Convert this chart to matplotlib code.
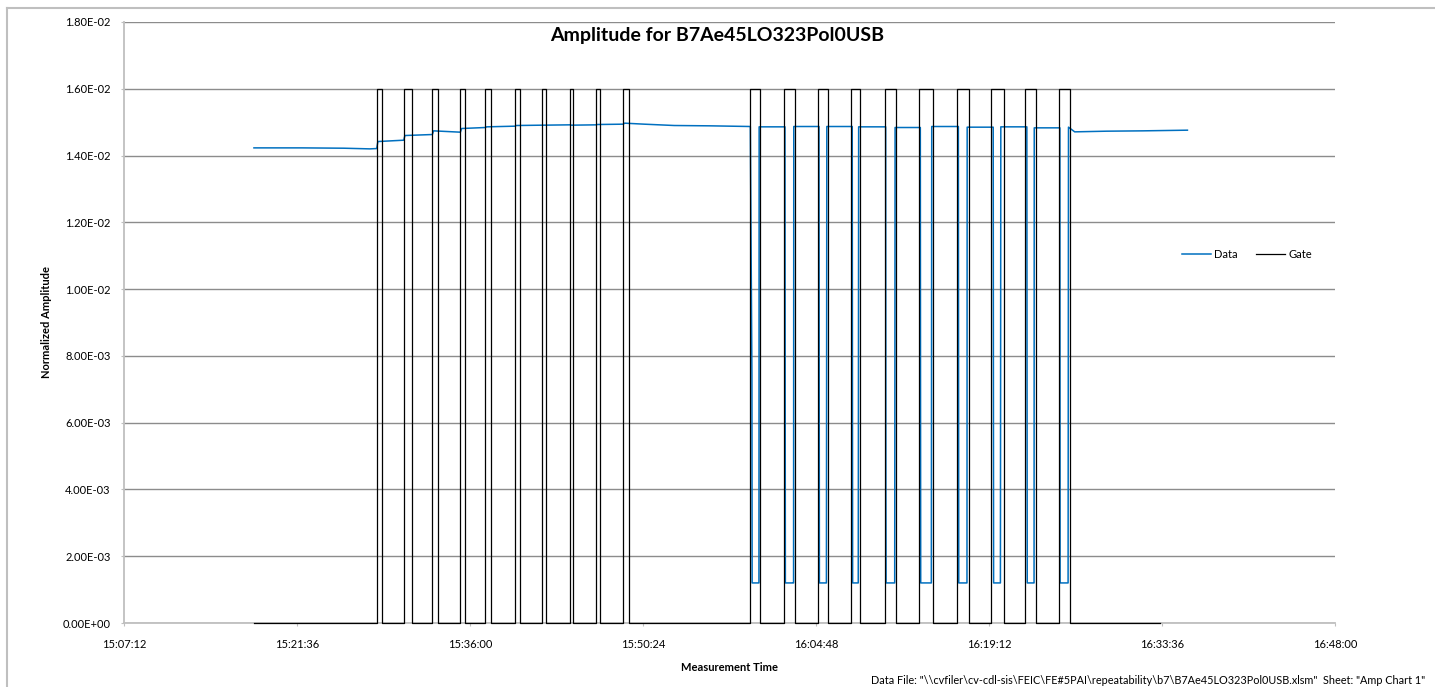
import matplotlib
matplotlib.use("Agg")
import matplotlib.pyplot as plt
from matplotlib.ticker import FuncFormatter, MultipleLocator
from matplotlib.lines import Line2D

plt.rcParams['font.family'] = ['Lato', 'DejaVu Sans']


def to_min(s):
    # "HH:MM:SS" -> minutes after midnight
    h, m, sec = (int(p) for p in s.split(':'))
    return h * 60 + m + sec / 60.0


# ---- Gate (0 or 1.6E-2) ----
gate_on = "15:18:01"
gate_off = "16:33:28"
gate_high = 0.016
pulse_start = ["15:28:14", "15:30:29", "15:32:52", "15:35:12", "15:37:17",
               "15:39:45", "15:42:00", "15:44:20", "15:46:30", "15:48:46",
               "15:59:19", "16:02:06", "16:04:56", "16:07:43", "16:10:31",
               "16:13:24", "16:16:32", "16:19:23", "16:22:12", "16:25:02"]
pulse_end = ["15:28:41", "15:31:10", "15:33:19", "15:35:37", "15:37:44",
             "15:40:12", "15:42:20", "15:44:34", "15:46:50", "15:49:16",
             "16:00:10", "16:03:01", "16:05:47", "16:08:29", "16:11:29",
             "16:14:32", "16:17:32", "16:20:25", "16:23:08", "16:25:58"]

# ---- Data, first part (no dips) ----
data1_time = ["15:18:01", "15:22:00", "15:25:30", "15:27:40", "15:28:14",
              "15:28:20", "15:30:29", "15:30:35", "15:32:52", "15:32:58",
              "15:35:12", "15:35:18", "15:37:17", "15:37:23", "15:39:45",
              "15:39:51", "15:42:00", "15:42:06", "15:44:20", "15:44:26",
              "15:46:30", "15:46:36", "15:48:46", "15:48:52", "15:50:30",
              "15:53:00", "15:56:00", "15:59:20"]
data1_value = [0.01423, 0.01423, 0.01422, 0.01420, 0.01421,
               0.01442, 0.01446, 0.01460, 0.01463, 0.01474,
               0.01470, 0.01481, 0.01484, 0.01486, 0.01488,
               0.01490, 0.01491, 0.01491, 0.01492, 0.01491,
               0.01492, 0.01493, 0.01494, 0.01497, 0.01494,
               0.01490, 0.01489, 0.01487]

# ---- Data, second part (dips while gate is high) ----
dip_start = ["15:59:28", "16:02:14", "16:05:04", "16:07:50", "16:10:37",
             "16:13:30", "16:16:40", "16:19:34", "16:22:22", "16:25:07"]
dip_end = ["16:00:03", "16:02:56", "16:05:41", "16:08:20", "16:11:22",
           "16:14:25", "16:17:22", "16:20:10", "16:22:57", "16:25:48"]
dip_low = 0.0012
dip_edge_in = [0.0074, 0.0075, 0.0073, 0.0073, 0.0041,
               0.0074, 0.0075, 0.0075, 0.0075, 0.0012]
dip_edge_out = [0.0012, 0.0012, 0.0073, 0.0072, 0.0074,
                0.0073, 0.0012, 0.0074, 0.0012, 0.0076]
plateau = [0.01486, 0.01487, 0.01487, 0.01486, 0.01484,
           0.01487, 0.01485, 0.01486, 0.01483, 0.01485]
tail_time = ["16:26:20", "16:29:00", "16:32:00", "16:35:43"]
tail_value = [0.01471, 0.01473, 0.01474, 0.01476]

# build the lines
gx = [to_min(gate_on)]
gy = [0.0]
for s, e in zip(pulse_start, pulse_end):
    gx += [to_min(s), to_min(s), to_min(e), to_min(e)]
    gy += [0.0, gate_high, gate_high, 0.0]
gx.append(to_min(gate_off))
gy.append(0.0)

dx = [to_min(t) for t in data1_time]
dy = list(data1_value)
sec = 1 / 60.0
for i in range(len(dip_start)):
    s, e = to_min(dip_start[i]), to_min(dip_end[i])
    dx += [s, s + sec, e - sec, e, e + sec]
    dy += [dip_edge_in[i], dip_low, dip_low, dip_edge_out[i], plateau[i]]
    if i + 1 < len(dip_start):
        dx.append(to_min(dip_start[i + 1]) - sec)
        dy.append(plateau[i])
dx += [to_min(t) for t in tail_time]
dy += tail_value

fig = plt.figure(figsize=(14.35, 6.87), dpi=100)
ax = fig.add_axes([124 / 1435, 1 - 623 / 687, 1211 / 1435, 601 / 687])

ax.plot(dx, dy, color='#0070C0', lw=1.1, label='Data', zorder=3)
ax.plot(gx, gy, color='black', lw=0.9, label='Gate', zorder=4, clip_on=False)

ax.set_xlim(to_min("15:07:12"), to_min("16:48:00"))
ax.set_ylim(0, 0.018)
ax.xaxis.set_major_locator(MultipleLocator(14.4))
ax.yaxis.set_major_locator(MultipleLocator(0.002))


def fmt_time(v, pos):
    s = int(round(v * 60))
    return f"{s // 3600}:{(s % 3600) // 60:02d}:{s % 60:02d}"


ax.xaxis.set_major_formatter(FuncFormatter(fmt_time))
ax.yaxis.set_major_formatter(FuncFormatter(lambda v, p: f"{v:.2E}"))

ax.grid(axis='y', color='#8C8C8C', lw=1.0)
ax.set_axisbelow(True)
for side in ['top', 'right']:
    ax.spines[side].set_visible(False)
for side in ['left', 'bottom']:
    ax.spines[side].set_color('#BFBFBF')
    ax.spines[side].set_linewidth(1.3)
ax.tick_params(axis='both', direction='out', length=2.5, color='#BFBFBF',
               labelsize=8, labelcolor='black')
ax.tick_params(axis='y', pad=7)
ax.tick_params(axis='x', pad=9)

ax.set_ylabel('Normalized Amplitude', fontsize=8, fontweight='bold', labelpad=8)
ax.set_xlabel('Measurement Time', fontsize=8, fontweight='bold', labelpad=9)
fig.text(717 / 1435, 1 - 35 / 687, 'Amplitude for B7Ae45LO323Pol0USB',
         ha='center', va='center', fontsize=14, fontweight='bold')

ax.legend(loc='center', bbox_to_anchor=(1247 / 1435, 1 - 254 / 687),
          bbox_transform=fig.transFigure, ncol=2, frameon=False,
          fontsize=8, handlelength=2.6, columnspacing=1.6, handletextpad=0.3)

fig.text(1425 / 1435, 1 - 680 / 687,
         'Data File: "\\\\cvfiler\\cv-cdl-sis\\FEIC\\FE#5PAI\\repeatability\\b7\\B7Ae45LO323Pol0USB.xlsm"  Sheet: "Amp Chart 1"',
         ha='right', va='center', fontsize=7.8)

# chart area border (top and left only visible)
fig.add_artist(Line2D([7 / 1435, 1], [1 - 8 / 687, 1 - 8 / 687],
                      transform=fig.transFigure, color='#BFBFBF', lw=1.5))
fig.add_artist(Line2D([7 / 1435, 7 / 1435], [0, 1 - 8 / 687],
                      transform=fig.transFigure, color='#BFBFBF', lw=1.5))

fig.savefig('out.png', dpi=100)
